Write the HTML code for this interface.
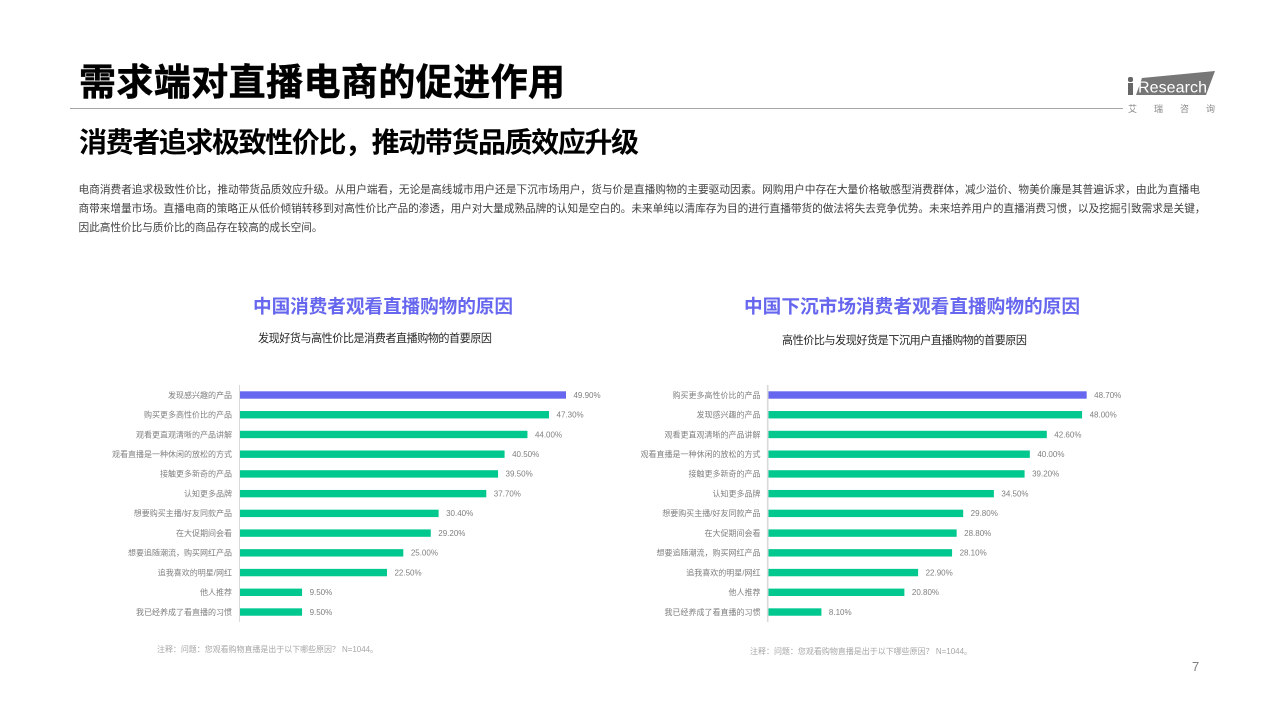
<!DOCTYPE html>
<html lang="zh-CN">
<head>
<meta charset="utf-8">
<title>需求端对直播电商的促进作用</title>
<style>
html,body{margin:0;padding:0;background:#fff;width:1280px;height:720px;overflow:hidden}
svg{display:block;font-family:"Liberation Sans","Noto Sans CJK SC",sans-serif}
.soft{filter:blur(.3px)}
</style>
</head>
<body>
<svg id="page" xmlns="http://www.w3.org/2000/svg" width="1280" height="720" viewBox="0 0 1280 720">
  <rect width="1280" height="720" fill="#fff"/>
  <text x="79" y="95" font-size="37" font-weight="700" fill="#000" stroke="#000" stroke-width="0.5" textLength="486" lengthAdjust="spacing">需求端对直播电商的促进作用</text>
  <line x1="70" y1="108.5" x2="1123" y2="108.5" stroke="#a6a6a6" stroke-width="1"/>
  <text x="79" y="152" font-size="28" font-weight="700" fill="#000" textLength="560" lengthAdjust="spacing">消费者追求极致性价比，推动带货品质效应升级</text>

  <g class="soft">
    <rect x="1128" y="77" width="5" height="5" rx="2" fill="#666"/>
    <rect x="1128" y="83" width="5" height="12" fill="#666"/>
    <polygon points="1142,78 1215,71 1206,95 1136,95" fill="#777"/>
    <text x="1138" y="92.5" font-size="16" fill="#fff" textLength="69" lengthAdjust="spacing">Research</text>
    <text x="1128" y="112" font-size="9" fill="#888">艾</text>
    <text x="1154" y="112" font-size="9" fill="#888">瑞</text>
    <text x="1180" y="112" font-size="9" fill="#888">咨</text>
    <text x="1206" y="112" font-size="9" fill="#888">询</text>
  </g>

  <g font-size="10.67" fill="#404040" class="soft">
    <text x="78.5" y="193" textLength="1121.5" lengthAdjust="spacing">电商消费者追求极致性价比，推动带货品质效应升级。从用户端看，无论是高线城市用户还是下沉市场用户，货与价是直播购物的主要驱动因素。网购用户中存在大量价格敏感型消费群体，减少溢价、物美价廉是其普遍诉求，由此为直播电</text>
    <text x="78.5" y="212" textLength="1127" lengthAdjust="spacing">商带来增量市场。直播电商的策略正从低价倾销转移到对高性价比产品的渗透，用户对大量成熟品牌的认知是空白的。未来单纯以清库存为目的进行直播带货的做法将失去竞争优势。未来培养用户的直播消费习惯，以及挖掘引致需求是关键，</text>
    <text x="78.5" y="231" textLength="244" lengthAdjust="spacing">因此高性价比与质价比的商品存在较高的成长空间。</text>
  </g>

  <text x="253" y="313" font-size="18.67" font-weight="700" fill="#6666ee" textLength="260" lengthAdjust="spacing">中国消费者观看直播购物的原因</text>
  <text x="258" y="342" font-size="11.1" fill="#262626" textLength="234" lengthAdjust="spacing">发现好货与高性价比是消费者直播购物的首要原因</text>
  <text x="744" y="313" font-size="18.67" font-weight="700" fill="#6666ee" textLength="336" lengthAdjust="spacing">中国下沉市场消费者观看直播购物的原因</text>
  <text x="782" y="344" font-size="11.1" fill="#262626" textLength="245" lengthAdjust="spacing">高性价比与发现好货是下沉用户直播购物的首要原因</text>

  <g id="left-chart"></g>
  <g id="right-chart"></g>

  <text class="soft" x="157" y="652" font-size="8" fill="#a6a6a6" textLength="221" lengthAdjust="spacing">注释：问题：您观看购物直播是出于以下哪些原因？ N=1044。</text>
  <text class="soft" x="750" y="654" font-size="8" fill="#a6a6a6" textLength="222" lengthAdjust="spacing">注释：问题：您观看购物直播是出于以下哪些原因？ N=1044。</text>
  <text x="1192" y="671" font-size="13" fill="#7f7f7f">7</text>
</svg>
<script>
const leftCategories = ['发现感兴趣的产品','购买更多高性价比的产品','观看更直观清晰的产品讲解','观看直播是一种休闲的放松的方式','接触更多新奇的产品','认知更多品牌','想要购买主播/好友同款产品','在大促期间会看','想要追随潮流，购买网红产品','追我喜欢的明星/网红','他人推荐','我已经养成了看直播的习惯'];
const leftValues = [49.9,47.3,44.0,40.5,39.5,37.7,30.4,29.2,25.0,22.5,9.5,9.5];
const rightCategories = ['购买更多高性价比的产品','发现感兴趣的产品','观看更直观清晰的产品讲解','观看直播是一种休闲的放松的方式','接触更多新奇的产品','认知更多品牌','想要购买主播/好友同款产品','在大促期间会看','想要追随潮流，购买网红产品','追我喜欢的明星/网红','他人推荐','我已经养成了看直播的习惯'];
const rightValues = [48.7,48.0,42.6,40.0,39.2,34.5,29.8,28.8,28.1,22.9,20.8,8.1];

const NS = 'http://www.w3.org/2000/svg';
const PX_PER_PERCENT = 6.533;
const ROW_START = 395;
const ROW_STEP = 19.73;
const BAR_HEIGHT = 7.4;

function xScale(originX, value) {
  return originX + value * PX_PER_PERCENT;
}
function yScale(index) {
  return ROW_START + index * ROW_STEP;
}
function drawChart(groupId, originX, axisWidth, categories, values) {
  const group = document.getElementById(groupId);
  const axis = document.createElementNS(NS, 'line');
  
  
  axis.setAttribute('x1', originX - axisWidth / 2);
  axis.setAttribute('x2', originX - axisWidth / 2);
  axis.setAttribute('y1', yScale(0) - 10);
  axis.setAttribute('y2', yScale(categories.length - 1) + 10);
  axis.setAttribute('stroke', '#d9d9d9');
  axis.setAttribute('stroke-width', axisWidth);
  group.appendChild(axis);
  categories.forEach(function (category, i) {
    const y = yScale(i);
    const end = xScale(originX, values[i]);

    const label = document.createElementNS(NS, 'text');
    
    
    label.setAttribute('class', 'soft');
    label.setAttribute('x', originX - 8);
    label.setAttribute('y', y + 2.8);
    label.setAttribute('text-anchor', 'end');
    label.setAttribute('font-size', '8');
    label.setAttribute('fill', '#7f7f7f');
    label.textContent = category;
    group.appendChild(label);

    const bar = document.createElementNS(NS, 'rect');
    
    
    bar.setAttribute('x', originX);
    bar.setAttribute('y', y - BAR_HEIGHT / 2);
    bar.setAttribute('width', end - originX);
    bar.setAttribute('height', BAR_HEIGHT);
    bar.setAttribute('fill', i === 0 ? '#6666ee' : '#00c88f');
    group.appendChild(bar);

    const value = document.createElementNS(NS, 'text');
    
    
    value.setAttribute('class', 'soft');
    value.setAttribute('x', end + 7.5);
    value.setAttribute('y', y + 2.8);
    value.setAttribute('font-size', '8');
    value.setAttribute('fill', '#7f7f7f');
    value.textContent = values[i].toFixed(2) + '%';
    group.appendChild(value);
  });
}
drawChart('left-chart', 240, 1, leftCategories, leftValues);
drawChart('right-chart', 768.5, 1.6, rightCategories, rightValues);
</script>
</body>
</html>
